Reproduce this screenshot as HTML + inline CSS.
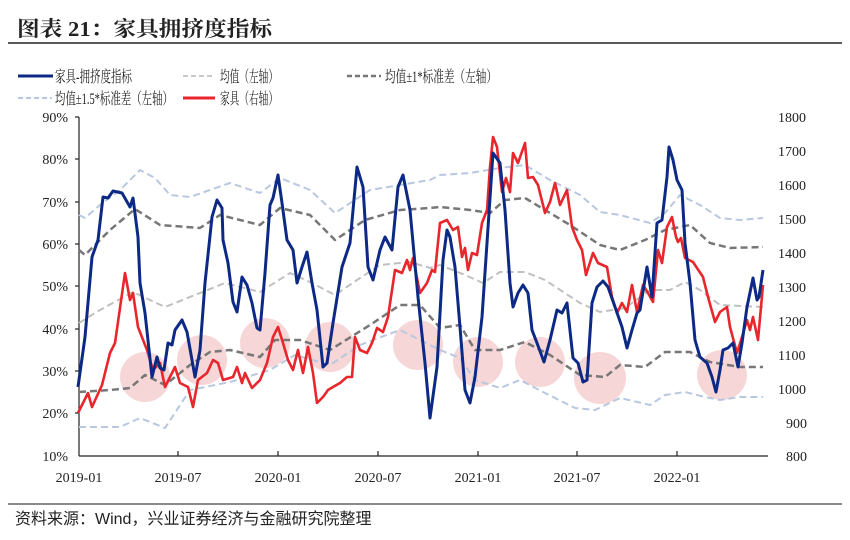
<!DOCTYPE html>
<html><head><meta charset="utf-8"><style>
body{margin:0;background:#fff;width:850px;height:540px;overflow:hidden}
svg{display:block}
text{font-family:"Liberation Serif","Noto Serif CJK SC",serif;fill:#222}
</style></head><body>
<svg width="850" height="540" viewBox="0 0 850 540">
<text x="17" y="36" font-size="21" font-weight="bold" textLength="255" lengthAdjust="spacingAndGlyphs" style="font-family:'Liberation Serif','Noto Serif CJK SC',serif">图表 21：家具拥挤度指标</text>
<line x1="8" y1="43" x2="842" y2="43" stroke="#222" stroke-width="1.5"/>
<line x1="8" y1="504" x2="842" y2="504" stroke="#444" stroke-width="1.2"/>
<text x="15" y="524" font-size="16" style="font-family:'Liberation Sans','Noto Sans CJK SC',sans-serif">资料来源：Wind，兴业证券经济与金融研究院整理</text>

<!-- legend -->
<g font-size="16">
<line x1="18" y1="76" x2="53" y2="76" stroke="#0c2a85" stroke-width="3"/><text x="55" y="82" textLength="77" lengthAdjust="spacingAndGlyphs">家具-拥挤度指标</text>
<line x1="183" y1="76" x2="215" y2="76" stroke="#c8c8c8" stroke-width="2" stroke-dasharray="5,3"/><text x="220" y="82" textLength="58" lengthAdjust="spacingAndGlyphs">均值（左轴）</text>
<line x1="347" y1="76" x2="381" y2="76" stroke="#777" stroke-width="2.5" stroke-dasharray="5,3"/><text x="385" y="82" textLength="112" lengthAdjust="spacingAndGlyphs">均值±1*标准差（左轴）</text>
<line x1="18" y1="98" x2="52" y2="98" stroke="#b8c8e0" stroke-width="2" stroke-dasharray="5,3"/><text x="55" y="104" textLength="118" lengthAdjust="spacingAndGlyphs">均值±1.5*标准差（左轴）</text>
<line x1="183" y1="98" x2="215" y2="98" stroke="#e8262b" stroke-width="3"/><text x="220" y="104" textLength="58" lengthAdjust="spacingAndGlyphs">家具（右轴）</text>
</g>

<!-- axes -->
<g stroke="#222" stroke-width="1.2">
<line x1="79" y1="117" x2="79" y2="456"/>
<line x1="79" y1="456" x2="768" y2="456"/>
<line x1="75" y1="117" x2="79" y2="117"/><line x1="75" y1="159" x2="79" y2="159"/><line x1="75" y1="202" x2="79" y2="202"/><line x1="75" y1="244" x2="79" y2="244"/><line x1="75" y1="286" x2="79" y2="286"/><line x1="75" y1="329" x2="79" y2="329"/><line x1="75" y1="371" x2="79" y2="371"/><line x1="75" y1="413" x2="79" y2="413"/>
<line x1="178" y1="451" x2="178" y2="456"/><line x1="278" y1="451" x2="278" y2="456"/><line x1="378" y1="451" x2="378" y2="456"/><line x1="478" y1="451" x2="478" y2="456"/><line x1="577" y1="451" x2="577" y2="456"/><line x1="677" y1="451" x2="677" y2="456"/>
</g>
<g font-size="14" text-anchor="end">
<text x="68" y="122">90%</text><text x="68" y="164">80%</text><text x="68" y="207">70%</text><text x="68" y="249">60%</text><text x="68" y="291">50%</text><text x="68" y="334">40%</text><text x="68" y="376">30%</text><text x="68" y="418">20%</text><text x="68" y="461">10%</text>
</g>
<g font-size="14" text-anchor="start">
<text x="778" y="122">1800</text><text x="778" y="156">1700</text><text x="778" y="190">1600</text><text x="778" y="224">1500</text><text x="778" y="258">1400</text><text x="778" y="292">1300</text><text x="778" y="326">1200</text><text x="778" y="360">1100</text><text x="778" y="394">1000</text><text x="786" y="428">900</text><text x="786" y="461">800</text>
</g>
<g font-size="14" text-anchor="middle">
<text x="79" y="482">2019-01</text><text x="178" y="482">2019-07</text><text x="278" y="482">2020-01</text><text x="378" y="482">2020-07</text><text x="478" y="482">2021-01</text><text x="577" y="482">2021-07</text><text x="677" y="482">2022-01</text>
</g>

<!-- circles -->
<g fill="#f2c4c4" fill-opacity="0.7">
<circle cx="145" cy="377" r="25"/><circle cx="202" cy="360" r="25"/><circle cx="265" cy="343" r="25"/><circle cx="330" cy="347" r="25"/><circle cx="418" cy="345" r="25"/><circle cx="478" cy="362" r="25"/><circle cx="540" cy="362" r="25"/><circle cx="600" cy="378" r="26"/><circle cx="722" cy="375" r="25"/>
</g>

<g fill="none" stroke-dasharray="7,4" stroke-linejoin="round">
<polyline stroke="#b8c8e0" stroke-width="2" points="79,215 85,218 100,205 120,190 140,170 155,178 170,195 190,197 210,190 230,183 260,193 280,178 310,190 335,213 370,190 400,185 430,180 440,175 470,173 500,168 525,165 550,180 580,195 600,212 620,215 650,223 665,213 680,195 700,205 720,218 740,220 763,218"/>
<polyline stroke="#777" stroke-width="2.5" points="79,250 85,255 110,230 135,209 160,225 200,228 220,215 260,225 280,208 310,215 335,240 365,220 400,210 430,208 440,207 470,210 490,213 505,200 525,198 545,210 570,225 600,245 620,250 645,240 665,230 690,225 710,243 730,248 763,247"/>
<polyline stroke="#c0c0c0" stroke-width="2" points="79,323 100,310 133,292 150,300 165,307 195,295 225,283 260,292 290,273 310,282 335,295 360,278 380,265 410,262 430,268 440,265 465,275 483,283 500,272 525,272 545,280 580,303 600,312 625,308 650,290 670,290 685,282 700,290 720,305 763,307"/>
<polyline stroke="#777" stroke-width="2.5" points="79,392 110,390 130,388 145,375 165,385 190,365 210,352 230,350 260,357 275,340 300,340 330,350 370,325 400,305 420,305 440,328 460,325 475,350 500,350 525,342 550,355 580,375 605,377 620,365 645,367 665,352 690,352 710,362 740,367 763,367"/>
<polyline stroke="#b8c8e0" stroke-width="2" points="79,427 120,427 140,418 165,428 190,390 230,382 270,370 295,355 330,365 360,345 400,330 420,340 440,350 460,358 475,380 500,388 520,380 545,393 575,408 595,410 620,398 650,405 665,395 685,392 705,397 720,400 740,397 763,397"/>
</g>

<polyline fill="none" stroke="#e8262b" stroke-width="2.6" stroke-linejoin="round" points="78,413 88,393 92,407 102,385 110,353 115,343 125,273 130,300 133,293 138,327 147,350 153,370 160,363 165,387 170,377 175,367 180,383 188,387 193,407 198,380 207,373 213,360 218,363 223,380 233,377 237,367 242,383 245,373 252,388 260,380 267,363 273,337 278,327 283,343 288,360 293,370 298,350 303,373 308,347 313,373 317,403 323,397 328,390 333,387 340,383 347,377 352,377 355,337 360,350 367,353 372,343 377,328 383,332 388,317 395,270 402,273 407,260 410,270 413,258 420,293 427,283 432,270 435,272 440,223 447,220 453,230 458,227 462,257 465,248 468,270 472,253 477,255 482,223 487,210 490,167 493,137 497,147 502,192 506,178 510,192 513,153 518,163 525,143 528,178 533,177 538,185 545,213 550,202 555,183 560,205 567,190 572,227 577,240 582,250 586,275 593,253 598,263 607,267 612,297 617,313 622,303 627,312 632,285 637,312 643,285 648,293 653,302 658,250 662,263 667,227 672,217 676,237 678,242 681,238 685,258 693,262 703,277 708,297 715,322 720,312 727,307 730,327 737,353 742,337 747,320 750,330 753,317 758,340 763,285"/>

<polyline fill="none" stroke="#0c2a85" stroke-width="3" stroke-linejoin="round" points="78,387 85,337 92,257 98,240 103,197 108,198 113,191 122,193 130,207 133,198 138,237 140,283 145,313 152,377 157,357 160,368 164,370 168,343 172,345 175,330 182,320 187,332 192,360 195,377 200,350 205,283 212,217 217,200 222,208 223,240 228,263 233,302 237,312 242,277 247,285 252,303 257,328 260,330 265,273 270,205 273,198 278,175 282,203 287,240 293,250 297,283 302,267 307,252 312,283 317,310 323,367 327,363 333,323 342,267 350,243 357,167 363,187 368,267 373,280 380,250 385,237 392,250 398,187 403,175 410,210 418,297 425,363 430,418 437,367 443,260 447,230 450,237 455,267 460,327 465,390 470,403 475,377 482,317 487,243 493,153 500,163 505,210 510,283 513,307 518,293 523,285 528,293 532,330 537,343 544,362 550,340 557,310 562,313 567,303 573,358 578,363 583,382 587,380 592,303 597,287 603,281 608,287 615,307 622,327 627,348 632,330 637,313 640,310 647,267 652,297 657,223 662,220 667,177 669,147 673,160 677,180 682,190 685,243 690,283 695,340 700,357 707,363 712,377 716,392 720,370 723,350 728,348 733,343 738,367 742,343 747,307 753,278 757,300 759,297 763,270"/>
</svg>
</body></html>
